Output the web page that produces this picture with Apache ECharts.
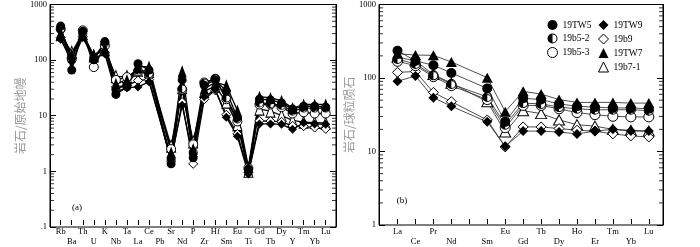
<!DOCTYPE html>
<html lang="zh">
<head>
<meta charset="UTF-8">
<title>spider</title>
<script src="https://cdn.jsdelivr.net/npm/echarts@6/dist/echarts.min.js"></script>
<style>html,body{margin:0;padding:0;background:#fff}</style>
</head>
<body>
<div id="main" style="width:700px;height:247px;"></div>
<script type="text/javascript">
// (a) primitive mantle normalised, Pb has no value
var pmCats = ['Rb','Ba','Th','U','K','Nb','Ta','La','Ce','Pb','Sr','Nd','P','Zr','Hf','Sm','Eu','Ti','Gd','Tb','Dy','Y','Tm','Yb','Lu'];
var pm_19TW5  = [370, 60, 300, 92, 195, 22, 30, 78, 60, null, 1.25, 40, 1.6, 32, 40, 25, 8.5, 1.0, 18, 17.5, 15.5, 12, 13.5, 13.5, 13];
var pm_19b5_2 = [320, 105, 270, 100, 185, 27, 33, 60, 52, null, 1.6, 28, 2.0, 35, 42, 19, 8, 0.95, 15.5, 15, 14, 11, 12.5, 12.5, 12.5];
var pm_19b5_3 = [330, 95, 310, 68, 165, 40, 45, 57, 50, null, 2.3, 27, 2.8, 36, 42, 18, 7.2, 1.05, 14.5, 14.5, 13, 10, 10.5, 10, 10];
var pm_19TW9  = [215, 85, 230, 100, 118, 24, 29, 30, 37, null, 1.5, 14, 1.7, 20, 27, 8.6, 3.9, 0.82, 6.5, 6.5, 6.4, 5.2, 6.8, 6.5, 6.4];
var pm_19b9   = [230, 100, 240, 90, 125, 30, 32, 39, 41, null, 1.4, 16, 1.25, 18, 26, 9.5, 4.3, 0.88, 7.4, 7.3, 7.1, 6, 5.9, 5.6, 5.3];
var pm_19TW7  = [280, 115, 255, 112, 150, 34, 40, 68, 70, null, 2.0, 57, 2.3, 28, 36, 32, 11.3, 1.1, 20, 19, 17, 12.5, 14.5, 14.5, 14.5];
var pm_19b7_1 = [260, 125, 270, 108, 140, 46, 46, 60, 57, null, 2.6, 29, 3.1, 25, 31, 16, 6.3, 0.92, 12, 11, 9.2, 7.5, 7, 6.9, 6.7];

// (b) chondrite normalised REE, Pm slot left empty
var reeCats = ['La','Ce','Pr','Nd','','Sm','Eu','Gd','Tb','Dy','Ho','Er','Tm','Yb','Lu'];
var ch_19TW5  = [220, 160, 140, 110, null, 68, 24, 50, 48, 42, 39, 38, 37, 37, 36];
var ch_19b5_2 = [170, 145, 102, 78, null, 52, 22, 43, 42, 38, 36, 35, 35, 35, 34];
var ch_19b5_3 = [158, 138, 98, 74, null, 48, 20, 40, 40, 36, 32, 30, 28.5, 28, 28];
var ch_19TW9  = [85, 100, 51, 39, null, 24, 11.2, 18, 18, 17.5, 16.5, 18, 19, 18, 18];
var ch_19b9   = [112, 115, 60, 45, null, 25.5, 11, 20.5, 20.5, 19.5, 18.5, 18, 16.5, 15.5, 15];
var ch_19TW7  = [200, 192, 190, 155, null, 95, 33, 62, 57, 48, 44, 44, 44, 43, 43];
var ch_19b7_1 = [180, 160, 105, 80, null, 45, 17.5, 34, 31, 25.5, 22, 21, 19, 18.5, 18];

var halfCircle = 'path://M10 0A10 10 0 1 1 10 20A10 10 0 1 1 10 0ZM10 2A8 8 0 1 0 10 18A8 8 0 1 0 10 2ZM10 20A10 10 0 0 1 10 0Z';

// drawing order: open symbols under filled ones
var samples = [
  {name:'19b7-1', pm:pm_19b7_1, ch:ch_19b7_1, symbol:'triangle', fill:'#fff'},
  {name:'19b9',   pm:pm_19b9,   ch:ch_19b9,   symbol:'diamond',  fill:'#fff'},
  {name:'19b5-3', pm:pm_19b5_3, ch:ch_19b5_3, symbol:'circle',   fill:'#fff'},
  {name:'19b5-2', pm:pm_19b5_2, ch:ch_19b5_2, symbol:halfCircle, fill:'#000'},
  {name:'19TW9',  pm:pm_19TW9,  ch:ch_19TW9,  symbol:'diamond',  fill:'#000'},
  {name:'19TW7',  pm:pm_19TW7,  ch:ch_19TW7,  symbol:'triangle', fill:'#000'},
  {name:'19TW5',  pm:pm_19TW5,  ch:ch_19TW5,  symbol:'circle',   fill:'#000'}
];

function symSize(s, panel) {
  if (s.symbol == 'triangle') return panel == 'a' ? [9, 12] : [11, 10];
  return panel == 'a' ? 9 : 10;
}

function itemStyleOf(s) {
  return {color: s.fill, borderColor: '#000', borderWidth: s.fill == '#fff' ? 1 : 0, opacity: 1};
}

var series = [];
samples.forEach(function (s) {
  series.push({
    name: s.name, type: 'line', xAxisIndex: 1, yAxisIndex: 2,
    data: s.pm, connectNulls: true, symbol: s.symbol, symbolSize: symSize(s, 'a'),
    lineStyle: {color: '#000', width: 1.3}, itemStyle: itemStyleOf(s), animation: false
  });
  series.push({
    name: s.name, type: 'line', xAxisIndex: 3, yAxisIndex: 5,
    data: s.ch, connectNulls: true, symbol: s.symbol, symbolSize: symSize(s, 'b'),
    lineStyle: {color: '#222', width: 0.8}, itemStyle: itemStyleOf(s), animation: false
  });
});

// minor log ticks on the frames
function minorTicks(lo, hi) {
  var out = [];
  for (var k = lo; k <= hi; k++) for (var m = 2; m <= 9; m++) out.push(m * Math.pow(10, k));
  return out;
}
function tickSeries(xi, yi, vals, side) {
  return {
    type: 'scatter', xAxisIndex: xi, yAxisIndex: yi, silent: true, animation: false,
    symbol: 'rect', symbolSize: [4, 1], symbolOffset: [side == 0 ? 2 : -2, 0],
    itemStyle: {color: '#000'}, clip: false,
    data: vals.map(function (v) { return [side, v]; })
  };
}
var mA = minorTicks(-1, 2), mB = minorTicks(0, 2);
series.push(tickSeries(0, 0, mA, 0), tickSeries(0, 0, mA, 1), tickSeries(2, 3, mB, 0), tickSeries(2, 3, mB, 1));

var serif = 'Liberation Serif';

function frameY(gi, min, max, name, pos) {
  return {
    type: 'log', gridIndex: gi, min: min, max: max, position: pos,
    axisLine: {show: true, lineStyle: {color: '#000'}},
    axisTick: {show: true, inside: true, length: 6, lineStyle: {color: '#000'}},
    splitLine: {show: false},
    axisLabel: pos == 'left' ? {show: true, margin: 3, color: '#000', fontSize: 8.5, fontFamily: serif,
      formatter: function (v) { return v < 0.5 ? '.1' : String(Math.round(v)); }} : {show: false},
    name: name, nameLocation: 'middle', nameGap: pos == 'left' ? 23 : 0,
    nameTextStyle: {color: '#9a9a9a', fontSize: 12, fontFamily: 'Noto Sans CJK SC'}
  };
}
function hiddenY(gi, min, max) {
  return {type: 'log', gridIndex: gi, min: min, max: max, show: false};
}
function catX(gi, cats, margin) {
  return {
    type: 'category', gridIndex: gi, data: cats, boundaryGap: false,
    axisLine: {show: false},
    axisTick: {show: true, inside: true, length: 5, interval: 0, lineStyle: {color: '#000'}},
    axisLabel: {interval: 0, margin: margin, lineHeight: 10, color: '#000', fontSize: 8.5, fontFamily: serif,
      formatter: function (v, i) { return i % 2 ? '\n' + v : v; }},
    splitLine: {show: false}
  };
}

var chart = echarts.init(document.getElementById('main'));
chart.setOption({
  animation: false,
  backgroundColor: '#fff',
  grid: [
    {left: 50, top: 2, width: 286, height: 225, show: true, borderColor: '#000', borderWidth: 1},
    {left: 60.7, top: 2, width: 265, height: 225},
    {left: 379, top: 2, width: 284, height: 223, show: true, borderColor: '#000', borderWidth: 1},
    {left: 397.5, top: 2, width: 251.3, height: 223}
  ],
  xAxis: [
    {type: 'value', gridIndex: 0, min: 0, max: 1, show: false},
    catX(1, pmCats, 2),
    {type: 'value', gridIndex: 2, min: 0, max: 1, show: false},
    catX(3, reeCats, 3)
  ],
  yAxis: [
    frameY(0, 0.1, 1000, '岩石/原始地幔', 'left'),
    frameY(0, 0.1, 1000, '', 'right'),
    hiddenY(1, 0.1, 1000),
    frameY(2, 1, 1000, '岩石/球粒陨石', 'left'),
    frameY(2, 1, 1000, '', 'right'),
    hiddenY(3, 1, 1000)
  ],
  legend: [
    {left: 542, top: 15, orient: 'vertical', itemWidth: 10, itemHeight: 10, itemGap: 3.5, selectedMode: false,
      textStyle: {color: '#000', fontSize: 9.5, fontFamily: serif},
      data: [
        {name: '19TW5', icon: 'circle', itemStyle: {color: '#000', borderWidth: 0}},
        {name: '19b5-2', icon: halfCircle, itemStyle: {color: '#000', borderWidth: 0}},
        {name: '19b5-3', icon: 'circle', itemStyle: {color: '#fff', borderColor: '#000', borderWidth: 1}}
      ]},
    {left: 593, top: 15, orient: 'vertical', itemWidth: 10, itemHeight: 10, itemGap: 3.5, selectedMode: false,
      textStyle: {color: '#000', fontSize: 9.5, fontFamily: serif},
      data: [
        {name: '19TW9', icon: 'diamond', itemStyle: {color: '#000', borderWidth: 0}},
        {name: '19b9', icon: 'diamond', itemStyle: {color: '#fff', borderColor: '#000', borderWidth: 1}},
        {name: '19TW7', icon: 'triangle', itemStyle: {color: '#000', borderWidth: 0}},
        {name: '19b7-1', icon: 'triangle', itemStyle: {color: '#fff', borderColor: '#000', borderWidth: 1}}
      ]}
  ],
  graphic: [
    {type: 'text', x: 77, y: 208, style: {text: '(a)', fill: '#000', font: '9px "Liberation Serif"', align: 'center', verticalAlign: 'middle'}},
    {type: 'text', x: 402, y: 201, style: {text: '(b)', fill: '#000', font: '9px "Liberation Serif"', align: 'center', verticalAlign: 'middle'}}
  ],
  series: series
});
</script>
</body>
</html>
